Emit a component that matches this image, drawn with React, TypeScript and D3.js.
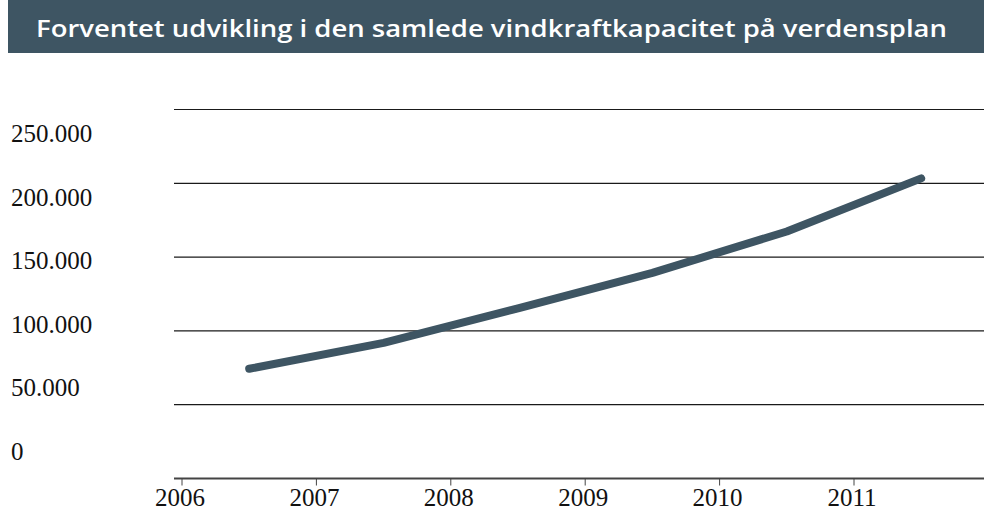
import React, { useEffect, useRef } from 'react';
import * as d3 from 'd3';

const title = 'Forventet udvikling i den samlede vindkraftkapacitet på verdensplan';
const years = [2006, 2007, 2008, 2009, 2010, 2011];
const capacity = [74000, 91500, 115000, 139000, 167000, 203000];
const yTicks = [0, 50000, 100000, 150000, 200000, 250000];

const W = 984;
const H = 527;
const barColor = '#3e5563';

const App = () => {
  const ref = useRef<SVGSVGElement>(null);

  useEffect(() => {
    const svg = d3.select(ref.current);
    svg.selectAll('*').remove();

    // title bar
    svg.append('rect')
      .attr('x', 8).attr('y', 0)
      .attr('width', W - 8).attr('height', 53)
      .attr('fill', barColor);

    svg.append('text')
      .attr('x', 36).attr('y', 37)
      .attr('fill', '#fff')
      .style('font-family', '"Open Sans", sans-serif')
      .style('font-weight', 600)
      .style('font-size', '23px')
      .attr('textLength', 911)
      .attr('lengthAdjust', 'spacingAndGlyphs')
      .text(title);

    const x = d3.scaleLinear().domain([2006, 2011]).range([182, 854]);
    const y = d3.scaleLinear().domain([0, 250000]).range([478, 109]);
    // labels sit on their own spacing in the original
    const yLabel = d3.scaleLinear().domain([0, 250000]).range([460, 142]);

    // gridlines
    svg.append('g')
      .selectAll('line')
      .data(yTicks.filter(d => d > 0))
      .join('line')
      .attr('x1', 174).attr('x2', W)
      .attr('y1', d => y(d) + 0.5).attr('y2', d => y(d) + 0.5)
      .attr('stroke', '#1a1a1a')
      .attr('stroke-width', 1.2);

    // y labels
    const fmt = (d: number) => d3.format(',')(d).replace(/,/g, '.');
    svg.append('g')
      .selectAll('text')
      .data(yTicks)
      .join('text')
      .attr('x', 11)
      .attr('y', d => yLabel(d))
      .style('font-family', '"Liberation Serif", serif')
      .style('font-size', '25px')
      .attr('fill', '#111')
      .text(d => fmt(d));

    // x axis
    const xAxis = svg.append('g')
      .attr('transform', `translate(0,${y(0) + 0.5})`);
    xAxis.append('line')
      .attr('x1', 174).attr('x2', W)
      .attr('stroke', '#444').attr('stroke-width', 2);
    xAxis.selectAll('line.tick')
      .data(years)
      .join('line')
      .attr('class', 'tick')
      .attr('x1', d => x(d)).attr('x2', d => x(d))
      .attr('y1', 0).attr('y2', 7)
      .attr('stroke', '#444').attr('stroke-width', 1);
    xAxis.selectAll('text')
      .data(years)
      .join('text')
      .attr('x', d => x(d) - 2)
      .attr('y', 27)
      .attr('text-anchor', 'middle')
      .style('font-family', '"Liberation Serif", serif')
      .style('font-size', '25px')
      .attr('fill', '#111')
      .text(d => d);

    // line
    const line = d3.line<number>()
      .x((_, i) => x(years[i] + 0.5))
      .y(d => y(d));

    svg.append('path')
      .datum(capacity)
      .attr('fill', 'none')
      .attr('stroke', barColor)
      .attr('stroke-width', 8)
      .attr('stroke-linecap', 'round')
      .attr('stroke-linejoin', 'round')
      .attr('d', line);
  }, []);

  return (
    <svg ref={ref} width={W} height={H}
      style={{ position: 'absolute', left: 0, top: 0, background: '#fff' }} />
  );
};

export default App;
